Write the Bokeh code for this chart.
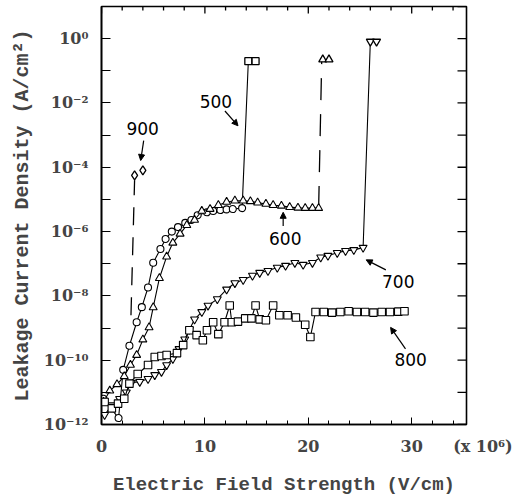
import numpy as np
from bokeh.plotting import figure
from bokeh.models import (FixedTicker, Range1d, Arrow, NormalHead, Label,
                          CustomJSTickFormatter)
from bokeh.embed import file_html
from bokeh.resources import INLINE

# ---------------- data (x in 10^5 V/cm, y as log10 of A/cm^2) ----------------
x500 = [0.2, 1.65, 2.1, 2.7, 3.4, 3.9, 4.5, 5.0, 5.7, 6.2, 6.8, 7.4, 8.1, 8.7,
        9.3, 10.2, 10.8, 11.5, 12.1, 12.7, 13.6]
ly500 = [-11.2, -11.8, -10.3, -9.55, -8.82, -8.35, -7.74, -6.97, -6.54, -6.23,
         -6.0, -5.86, -5.73, -5.64, -5.49, -5.40, -5.36, -5.33, -5.31, -5.30, -5.27]
bx500 = [14.2, 14.9]
bly500 = [-0.7, -0.7]

x600 = [0.2, 0.8, 1.5, 2.2, 2.8, 3.4, 4.0, 4.6, 5.0, 5.6, 6.3, 6.9, 7.6, 8.25,
        9.0, 9.7, 10.5, 11.3, 12.1, 12.9, 13.7, 14.4, 15.1, 15.9, 16.6, 17.4,
        18.2, 19.0, 19.7, 20.4, 21.0]
ly600 = [-11.3, -10.95, -10.75, -10.5, -10.15, -9.84, -9.36, -8.98, -8.36, -7.45,
         -6.78, -6.35, -6.07, -5.8, -5.64, -5.36, -5.3, -5.18, -5.08, -5.04, -5.04,
         -5.06, -5.1, -5.14, -5.18, -5.2, -5.24, -5.26, -5.27, -5.27, -5.27]
bx600 = [21.4, 22.0]
bly600 = [-0.65, -0.65]

x700 = [0.3, 1.0, 1.75, 2.4, 2.9, 3.7, 4.5, 5.15, 5.8, 6.3, 6.9, 7.5, 8.05, 8.5,
        9.0, 9.7, 10.3, 11.2, 12.1, 12.9, 13.7, 14.6, 15.3, 16.1, 17.0, 17.8,
        18.7, 19.5, 20.4, 21.2, 21.9, 22.8, 23.6, 24.4, 25.3]
ly700 = [-11.7, -11.4, -11.2, -11.0, -10.7, -10.67, -10.58, -10.46, -10.36,
         -10.15, -9.96, -9.65, -9.35, -9.05, -8.73, -8.5, -8.3, -8.1, -7.8, -7.6,
         -7.5, -7.37, -7.28, -7.22, -7.12, -7.06, -6.97, -7.03, -6.97, -6.8,
         -6.75, -6.66, -6.6, -6.57, -6.5]
bx700 = [26.0, 26.6]
bly700 = [-0.09, -0.09]

x800 = [0.3, 1.0, 1.6, 2.2, 2.7, 3.5, 4.5, 5.15, 5.8, 6.3, 7.3, 7.9, 8.5, 9.2,
        9.8, 10.2, 10.8, 11.3, 11.9, 12.4, 12.6, 13.2, 13.9, 14.5, 14.9, 15.3,
        15.9, 16.6, 17.2, 18.0, 18.8, 19.7, 20.2, 20.7, 21.5, 22.3, 23.1, 23.9,
        24.7, 25.5, 26.3, 27.1, 27.9, 28.7, 29.3]
ly800 = [-11.3, -11.5, -11.35, -11.2, -10.73, -10.43, -10.15, -9.9, -9.87, -9.84,
         -9.78, -9.53, -9.07, -9.22, -9.38, -9.07, -8.82, -9.19, -8.82, -8.3,
         -8.82, -8.8, -8.7, -8.7, -8.3, -8.73, -8.76, -8.3, -8.6, -8.6, -8.67,
         -8.9, -9.28, -8.5, -8.5, -8.52, -8.5, -8.48, -8.5, -8.5, -8.52, -8.5,
         -8.5, -8.49, -8.48]

x900 = [3.2, 4.0]
ly900 = [-4.25, -4.1]
dx900 = [2.85, 3.2]
dly900 = [-8.6, -4.4]

xticks_major = [0, 10, 20, 30]
xticks_minor = [2, 4, 6, 8, 12, 14, 16, 18, 22, 24, 26, 28, 32, 34]
x_unit_label = "(x 10\u2076)"
y_major = list(range(-12, 2, 2))
y_minor = list(range(-11, 2, 2))

labels = ["900", "500", "600", "700", "800"]
label_x = [3.98, 11.07, 17.77, 28.7, 29.9]
label_ly = [-2.8, -1.94, -6.23, -7.56, -9.99]
arrow_x0 = [4.08, 11.94, 17.57, 27.5, 29.4]
arrow_ly0 = [-3.17, -2.25, -5.83, -7.19, -9.65]
arrow_x1 = [3.79, 13.2, 17.57, 25.6, 27.96]
arrow_ly1 = [-3.79, -2.71, -5.40, -6.88, -8.98]

def p10(a):
    return list(10.0 ** np.asarray(a, dtype=float))

# ---------------- figure ----------------
TXT = "Liberation Mono"
TICKF = "DejaVu Serif"
XMAX, LYMIN, LYMAX = 35.3, -12, 1
W, H, BL, BR, BT, BB = 524, 498, 101, 58, 6, 70
px_per_x = (W - BL - BR) / XMAX
px_per_dec = (H - BT - BB) / (LYMAX - LYMIN)
x_unit_pos = XMAX - 0.03

p = figure(width=W, height=H, x_range=Range1d(0, XMAX),
           y_range=Range1d(10.0 ** LYMIN, 10.0 ** LYMAX), y_axis_type="log",
           output_backend="svg", toolbar_location=None,
           min_border_left=BL, min_border_right=BR, min_border_top=BT,
           min_border_bottom=BB)
p.xgrid.visible = False
p.ygrid.visible = False
p.outline_line_color = "black"
p.outline_line_width = 1.6
p.background_fill_color = "white"
p.border_fill_color = "white"

ylab_fmt = CustomJSTickFormatter(code="""
const e = Math.round(Math.log10(tick));
const sup = {"0":"\u2070","1":"\u00b9","2":"\u00b2","3":"\u00b3","4":"\u2074","5":"\u2075","6":"\u2076","7":"\u2077","8":"\u2078","9":"\u2079","-":"\u207b"};
return "10" + String(e).split("").map(c => sup[c]).join("");
""")
xlab_fmt = CustomJSTickFormatter(args=dict(unit=x_unit_label, upos=x_unit_pos), code="""
if (Math.abs(tick - upos) < 1e-6) return "\u00a0\u00a0\u00a0\u00a0\u00a0\u00a0" + unit;
return String(Math.round(tick));
""")

xa = p.xaxis[0]
xa.ticker = FixedTicker(ticks=xticks_major + [x_unit_pos], minor_ticks=xticks_minor)
xa.formatter = xlab_fmt
xa.axis_label = "Electric Field Strength (V/cm)"
xa.axis_label_text_font = TXT
xa.axis_label_text_font_size = "19px"
xa.axis_label_text_font_style = "bold"
xa.axis_label_standoff = 15
xa.major_label_text_font = TICKF
xa.major_label_text_font_size = "16px"
xa.major_label_text_font_style = "bold"
xa.major_label_standoff = 12
xa.major_tick_in = 7
xa.major_tick_out = 0
xa.minor_tick_in = 4
xa.minor_tick_out = 0
xa.axis_line_width = 1.6

ya = p.yaxis[0]
ya.ticker = FixedTicker(ticks=p10(y_major), minor_ticks=p10(y_minor))
ya.formatter = ylab_fmt
ya.axis_label = "Leakage Current Density (A/cm\u00b2)"
ya.axis_label_text_font = TXT
ya.axis_label_text_font_size = "20px"
ya.axis_label_text_font_style = "bold"
ya.axis_label_standoff = 7
ya.major_label_text_font = TICKF
ya.major_label_text_font_size = "16px"
ya.major_label_text_font_style = "bold"
ya.major_label_standoff = 13
ya.major_tick_in = 9
ya.major_tick_out = 0
ya.minor_tick_in = 9
ya.minor_tick_out = 0
ya.axis_line_width = 1.6

# ticks on the top and right frame edges (derived from the tick arrays)
top_major = 10.0 ** (LYMAX - 7 / px_per_dec)
top_minor = 10.0 ** (LYMAX - 4 / px_per_dec)
p.segment(x0=xticks_major, y0=[10.0 ** LYMAX] * len(xticks_major),
          x1=xticks_major, y1=[top_major] * len(xticks_major),
          line_color="black", line_width=1.3)
p.segment(x0=xticks_minor, y0=[10.0 ** LYMAX] * len(xticks_minor),
          x1=xticks_minor, y1=[top_minor] * len(xticks_minor),
          line_color="black", line_width=1.3)
ydec = list(range(LYMIN, LYMAX + 1))
p.segment(x0=[XMAX] * len(ydec), y0=p10(ydec),
          x1=[XMAX - 9 / px_per_x] * len(ydec), y1=p10(ydec),
          line_color="black", line_width=1.3)

# ---------------- series ----------------
LW = 1.1
# 500: circles
p.line(x500 + bx500[:1], p10(ly500 + bly500[:1]), line_color="black", line_width=LW)
p.scatter(x500, p10(ly500), marker="circle", size=7, line_color="black",
          fill_color="white", line_width=1.1)
p.scatter(bx500, p10(bly500), marker="square", size=7, line_color="black",
          fill_color="white", line_width=1.3)

# 600: triangles, dashed breakdown
p.line(x600, p10(ly600), line_color="black", line_width=LW)
p.line([x600[-1], bx600[0] - 0.1], p10([ly600[-1], bly600[0]]), line_color="black",
       line_width=1.3, line_dash="22 14")
p.scatter(x600, p10(ly600), marker="triangle", size=8, line_color="black",
          fill_color="white", line_width=1.1)
p.scatter(bx600, p10(bly600), marker="triangle", size=8, line_color="black",
          fill_color="white", line_width=1.3)

# 700: inverted triangles
p.line(x700 + bx700[:1], p10(ly700 + bly700[:1]), line_color="black", line_width=LW)
p.scatter(x700, p10(ly700), marker="inverted_triangle", size=8, line_color="black",
          fill_color="white", line_width=1.1)
p.scatter(bx700, p10(bly700), marker="inverted_triangle", size=8, line_color="black",
          fill_color="white", line_width=1.3)

# 800: squares
p.line(x800, p10(ly800), line_color="black", line_width=LW)
p.scatter(x800, p10(ly800), marker="square", size=7.5, line_color="black",
          fill_color="white", line_width=1.1)

# 900: dashed line + diamonds
p.line(dx900, p10(dly900), line_color="black", line_width=1.3, line_dash="18 12")
p.scatter(x900, p10(ly900), marker="diamond", size=9, line_color="black",
          fill_color="white", line_width=1.3)

# ---------------- annotations ----------------
for t, lx, lly, ax0, ay0, ax1, ay1 in zip(labels, label_x, label_ly, arrow_x0,
                                          arrow_ly0, arrow_x1, arrow_ly1):
    p.add_layout(Label(x=lx, y=10 ** lly, text=t, text_font="DejaVu Sans",
                       text_font_size="17px", text_align="center",
                       text_baseline="middle", text_color="black"))
    p.add_layout(Arrow(end=NormalHead(size=6, fill_color="black", line_color="black"),
                       x_start=ax0, y_start=10 ** ay0, x_end=ax1, y_end=10 ** ay1,
                       line_color="black", line_width=1.2))

open("out.html", "w").write(file_html(p, INLINE))
